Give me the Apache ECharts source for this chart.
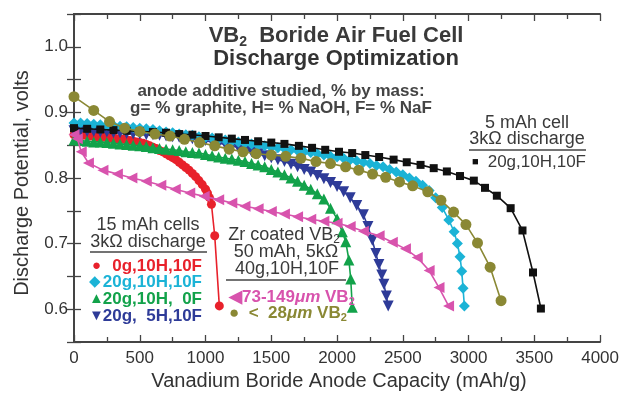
<!DOCTYPE html>
<html>
<head>
<meta charset="utf-8">
<script src="https://cdn.jsdelivr.net/npm/echarts@6/dist/echarts.min.js"></script>
<style>
  html, body { margin: 0; padding: 0; background: #fff; }
  #chart { width: 622px; height: 394px; }
</style>
</head>
<body>
<div id="chart"></div>
<script>
// capacity (mAh/g), potential (V)
const red0g10H10F = [[0,0.866],[25,0.866],[50,0.865],[75,0.865],[100,0.865],[125,0.864],[150,0.864],[175,0.863],[200,0.863],[225,0.862],[250,0.862],[275,0.861],[300,0.861],[325,0.860],[350,0.859],[375,0.859],[400,0.858],[425,0.857],[450,0.856],[475,0.855],[500,0.854],[525,0.853],[550,0.851],[575,0.849],[600,0.847],[625,0.845],[650,0.842],[675,0.840],[700,0.837],[725,0.834],[750,0.831],[775,0.828],[800,0.824],[825,0.820],[850,0.816],[875,0.812],[900,0.807],[925,0.802],[950,0.796],[975,0.790],[1000,0.783],[1015,0.777],[1030,0.770],[1045,0.760],[1070,0.712],[1105,0.605]];

const cyan20g10H10F = [[0,0.884],[50,0.884],[100,0.883],[150,0.882],[200,0.881],[250,0.880],[300,0.880],[350,0.879],[400,0.878],[450,0.877],[500,0.876],[550,0.875],[600,0.874],[650,0.872],[700,0.870],[750,0.869],[800,0.867],[850,0.866],[900,0.865],[950,0.863],[1000,0.862],[1050,0.861],[1100,0.859],[1150,0.858],[1200,0.856],[1250,0.855],[1300,0.853],[1350,0.852],[1400,0.850],[1450,0.849],[1500,0.847],[1550,0.846],[1600,0.845],[1650,0.843],[1700,0.842],[1750,0.840],[1800,0.839],[1850,0.837],[1900,0.835],[1950,0.833],[2000,0.832],[2050,0.830],[2100,0.828],[2150,0.826],[2200,0.824],[2250,0.822],[2300,0.819],[2350,0.817],[2400,0.813],[2450,0.809],[2500,0.805],[2550,0.800],[2600,0.795],[2650,0.789],[2700,0.781],[2750,0.770],[2800,0.755],[2850,0.736],[2890,0.718],[2915,0.700],[2935,0.680],[2948,0.658],[2958,0.632],[2968,0.605]];

const green20g10H0F = [[0,0.858],[50,0.857],[100,0.856],[150,0.855],[200,0.855],[250,0.854],[300,0.853],[350,0.852],[400,0.851],[450,0.850],[500,0.849],[550,0.848],[600,0.846],[650,0.845],[700,0.844],[750,0.843],[800,0.842],[850,0.840],[900,0.839],[950,0.838],[1000,0.836],[1050,0.834],[1100,0.832],[1150,0.830],[1200,0.829],[1250,0.827],[1300,0.825],[1350,0.822],[1400,0.820],[1450,0.817],[1500,0.813],[1550,0.809],[1600,0.805],[1650,0.800],[1700,0.795],[1750,0.789],[1800,0.783],[1850,0.776],[1900,0.768],[1950,0.754],[2000,0.738],[2040,0.718],[2066,0.703],[2090,0.675],[2104,0.646],[2116,0.603]];

const blue20g5H10F = [[0,0.872],[50,0.872],[100,0.871],[150,0.871],[200,0.870],[250,0.870],[300,0.869],[350,0.869],[400,0.868],[450,0.867],[500,0.867],[550,0.866],[600,0.866],[650,0.865],[700,0.864],[750,0.863],[800,0.862],[850,0.861],[900,0.860],[950,0.858],[1000,0.857],[1050,0.855],[1100,0.853],[1150,0.851],[1200,0.849],[1250,0.846],[1300,0.843],[1350,0.840],[1400,0.837],[1450,0.834],[1500,0.831],[1550,0.828],[1600,0.825],[1650,0.821],[1700,0.817],[1750,0.813],[1800,0.809],[1850,0.804],[1900,0.799],[1950,0.793],[2000,0.787],[2050,0.779],[2100,0.770],[2150,0.758],[2200,0.744],[2235,0.726],[2268,0.705],[2295,0.685],[2318,0.668],[2340,0.652],[2356,0.638],[2375,0.620],[2389,0.605]];

const black5mAh = [[0,0.876],[100,0.875],[200,0.874],[300,0.873],[400,0.872],[500,0.871],[600,0.870],[700,0.869],[800,0.867],[900,0.866],[1000,0.864],[1100,0.862],[1200,0.860],[1300,0.858],[1400,0.856],[1500,0.854],[1600,0.852],[1710,0.849],[1810,0.846],[1910,0.843],[2015,0.840],[2115,0.838],[2215,0.835],[2320,0.832],[2430,0.828],[2530,0.824],[2635,0.820],[2735,0.815],[2835,0.810],[2935,0.803],[3040,0.796],[3125,0.785],[3215,0.773],[3320,0.754],[3410,0.720],[3490,0.656],[3550,0.601]];

const magenta73to149 = [[0,0.866],[25,0.860],[55,0.840],[110,0.823],[220,0.812],[330,0.806],[440,0.800],[550,0.795],[660,0.789],[770,0.783],[880,0.777],[990,0.772],[1100,0.767],[1200,0.762],[1300,0.757],[1400,0.753],[1500,0.749],[1600,0.745],[1700,0.741],[1800,0.737],[1900,0.734],[2000,0.731],[2100,0.726],[2200,0.719],[2320,0.712],[2420,0.702],[2520,0.692],[2610,0.679],[2700,0.659],[2775,0.633],[2848,0.605]];

const olive28 = [[0,0.924],[150,0.903],[270,0.886],[385,0.876],[500,0.871],[615,0.867],[730,0.864],[840,0.859],[955,0.854],[1070,0.849],[1180,0.844],[1285,0.840],[1385,0.837],[1500,0.835],[1610,0.833],[1725,0.830],[1840,0.825],[1950,0.822],[2065,0.817],[2165,0.812],[2270,0.806],[2370,0.801],[2475,0.794],[2575,0.788],[2690,0.779],[2790,0.766],[2886,0.748],[2980,0.729],[3068,0.701],[3164,0.664],[3247,0.613]];

const RED = '#e8212b', CYAN = '#1bb3d6', GREEN = '#12a24a', BLUE = '#2e3b98',
      BLACK = '#111111', MAGENTA = '#d853ad', OLIVE = '#8a8834';
const FONT = '"Liberation Sans", Arial, Helvetica, sans-serif';
const TXT = '#3a3a3a';

const chart = echarts.init(document.getElementById('chart'), null, { renderer: 'canvas' });

const axisLine = { show: true, lineStyle: { color: '#444', width: 2 } };
const tick = { show: true, inside: true, length: 7, lineStyle: { color: '#444', width: 1.3 } };
const minor = { show: true, splitNumber: 2, length: 5, lineStyle: { color: '#444', width: 1.3 } };

function line(name, data, color, symbol, size, rotate, z) {
  return {
    name: name,
    type: 'line',
    data: data,
    symbol: symbol,
    symbolSize: size,
    symbolRotate: rotate,
    showAllSymbol: true,
    z: z,
    itemStyle: { color: color, borderWidth: 0 },
    lineStyle: { color: color, width: 1.6 },
    animation: false
  };
}

function txt(x, y, text, opts) {
  opts = opts || {};
  return {
    type: 'text',
    x: x, y: y,
    rotation: opts.rotation || 0,
    z: 100,
    style: Object.assign({
      text: text,
      font: (opts.weight || 'normal') + ' ' + (opts.size || 17) + 'px ' + FONT,
      fill: opts.color || TXT,
      align: opts.align || 'center',
      verticalAlign: 'middle'
    }, opts.rich ? { rich: opts.rich } : {})
  };
}

function rule(x1, x2, y) {
  return { type: 'line', z: 100, shape: { x1: x1, y1: y, x2: x2, y2: y }, style: { stroke: '#444', lineWidth: 1.6 } };
}

const sub = (size, color, weight) => ({
  n: { fontSize: size, fontFamily: FONT, fontWeight: weight, color: color },
  i: { fontSize: size, fontFamily: FONT, fontWeight: weight, fontStyle: 'italic', color: color },
  s: { fontSize: Math.round(size * 0.65), fontFamily: FONT, fontWeight: weight, color: color, verticalAlign: 'bottom', padding: [Math.round(size * 0.55), 0, 0, 0] }
});

const option = {
  backgroundColor: '#fff',
  animation: false,
  grid: { left: 74, right: 20, top: 14, bottom: 52 },
  xAxis: [
    {
      type: 'value', min: 0, max: 4000, interval: 500, position: 'bottom',
      axisLine: axisLine, axisTick: tick, minorTick: minor,
      splitLine: { show: false },
      axisLabel: { fontSize: 17, color: '#333', fontFamily: FONT, margin: 8, formatter: v => String(v) }
    },
    {
      type: 'value', min: 0, max: 4000, interval: 500, position: 'top',
      axisLine: axisLine, axisTick: tick, minorTick: minor,
      splitLine: { show: false }, axisLabel: { show: false }
    }
  ],
  yAxis: [
    {
      type: 'value', min: 0.55, max: 1.05, interval: 0.05, position: 'left',
      axisLine: axisLine, axisTick: tick,
      splitLine: { show: false },
      axisLabel: {
        fontSize: 17, color: '#333', fontFamily: FONT, margin: 6,
        formatter: v => (Math.round(v * 100) % 10 === 0 ? v.toFixed(1) : '')
      }
    },
    {
      type: 'value', min: 0.55, max: 1.05, interval: 0.05, position: 'right',
      axisLine: axisLine, axisTick: tick,
      splitLine: { show: false }, axisLabel: { show: false }
    }
  ],
  series: [
    line('0g,10H,10F', red0g10H10F, RED, 'circle', 9, 0, 2),
    line('20g,10H, 0F', green20g10H0F, GREEN, 'triangle', 11, 0, 3),
    line('20g, 5H,10F', blue20g5H10F, BLUE, 'triangle', 11, 180, 4),
    line('20g,10H,10F', cyan20g10H10F, CYAN, 'diamond', 11, 0, 5),
    line('5 mAh 20g,10H,10F', black5mAh, BLACK, 'rect', 8, 0, 6),
    line('73-149um VB2', magenta73to149, MAGENTA, 'triangle', 11, 90, 7),
    line('<28um VB2', olive28, OLIVE, 'circle', 11, 0, 8)
  ],
  graphic: [
    // axis titles
    txt(339, 381, 'Vanadium Boride Anode Capacity (mAh/g)', { size: 20, color: '#333' }),
    txt(22, 183, 'Discharge Potential, volts', { size: 20, color: '#333', rotation: Math.PI / 2 }),

    txt(336, 36, '{n|VB}{s|2}{n|  Boride Air Fuel Cell}', { weight: 'bold', size: 22, rich: sub(22, '#333', 'bold') }),
    txt(336, 59, 'Discharge Optimization', { weight: 'bold', size: 22, color: '#333' }),
    txt(281, 91, 'anode additive studied, % by mass:', { weight: 'bold', size: 17, color: '#444' }),
    txt(281, 108, 'g= % graphite, H= % NaOH, F= % NaF', { weight: 'bold', size: 17, color: '#444' }),

    txt(527, 123, '5 mAh cell', { size: 18 }),
    txt(527, 139, '3k\u03A9 discharge', { size: 18 }),
    rule(469, 586, 150),
    txt(472, 162, '\u25A0', { size: 11, color: BLACK, align: 'left' }),
    txt(586, 162, '20g,10H,10F', { size: 17, align: 'right' }),

    txt(148, 225, '15 mAh cells', { size: 18 }),
    txt(148, 242, '3k\u03A9 discharge', { size: 18 }),
    rule(90, 207, 252),
    txt(92, 266, '\u25CF', { size: 15, color: RED, align: 'left' }),
    txt(202, 266, '0g,10H,10F', { weight: 'bold', size: 17, color: RED, align: 'right' }),
    txt(89, 282, '\u25C6', { size: 15, color: CYAN, align: 'left' }),
    txt(202, 282, '20g,10H,10F', { weight: 'bold', size: 17, color: CYAN, align: 'right' }),
    txt(89, 299, '\u25B2', { size: 15, color: GREEN, align: 'left' }),
    txt(202, 299, '20g,10H,  0F', { weight: 'bold', size: 17, color: GREEN, align: 'right' }),
    txt(89, 316, '\u25BC', { size: 15, color: BLUE, align: 'left' }),
    txt(202, 316, '20g,  5H,10F', { weight: 'bold', size: 17, color: BLUE, align: 'right' }),

    txt(284, 235, '{n|Zr coated VB}{s|2}', { size: 18, rich: sub(18, TXT, 'normal') }),
    txt(286, 252, '50 mAh, 5k\u03A9', { size: 18 }),
    txt(287, 269, '40g,10H,10F', { size: 18 }),
    rule(226, 346, 280),
    txt(229, 297, '{n|\u25C073-149}{i|\u03BCm}{n| VB}{s|2}', { weight: 'bold', size: 17, color: MAGENTA, align: 'left', rich: sub(17, MAGENTA, 'bold') }),
    txt(229, 313, '{n|\u25CF  <  28}{i|\u03BCm}{n| VB}{s|2}', { weight: 'bold', size: 17, color: OLIVE, align: 'left', rich: sub(17, OLIVE, 'bold') })
  ]
};

chart.setOption(option);
</script>
</body>
</html>
